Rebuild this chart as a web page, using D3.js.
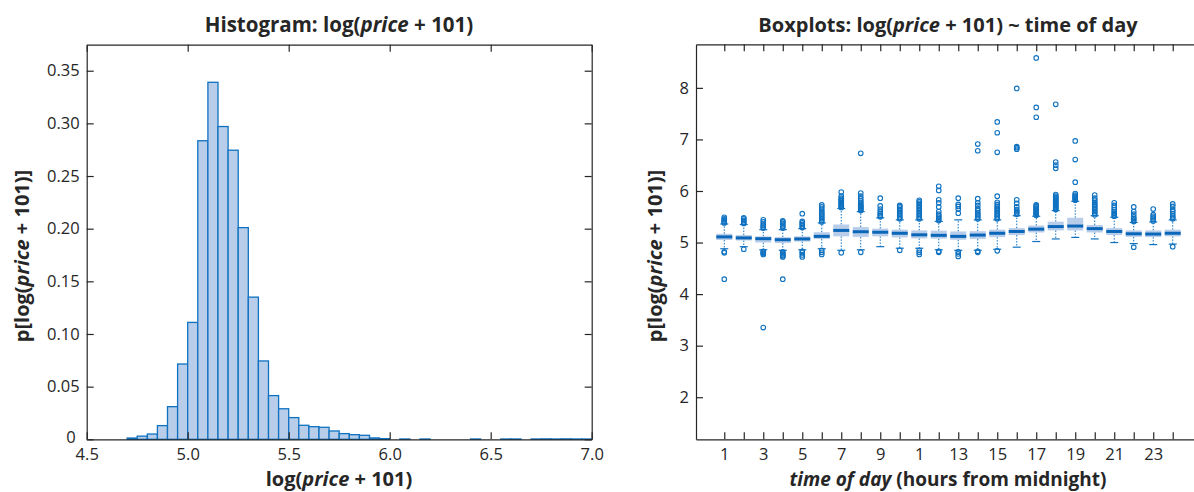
<!DOCTYPE html>
<html>
<head>
<meta charset="utf-8">
<script src="https://cdn.jsdelivr.net/npm/d3@7"></script>
<style>
  body { margin: 0; background: #fff; }
  text { font-family: "Open Sans", "Noto Sans", sans-serif; fill: #262626; }
</style>
</head>
<body>
<div id="chart"></div>
<script>
// Histogram: lower bin edges (bin width 0.05) and probabilities
const binLo = [4.70, 4.75, 4.80, 4.85, 4.90, 4.95, 5.00, 5.05, 5.10, 5.15, 5.20, 5.25, 5.30,
  5.35, 5.40, 5.45, 5.50, 5.55, 5.60, 5.65, 5.70, 5.75, 5.80, 5.85, 5.90, 5.95,
  6.05, 6.15, 6.40, 6.55, 6.60, 6.70, 6.75, 6.80, 6.85, 6.90, 6.95];
const binP = [0.0012, 0.003, 0.005, 0.013, 0.031, 0.0715, 0.111, 0.2835, 0.339, 0.297, 0.2745, 0.201, 0.135,
  0.0744, 0.0415, 0.029, 0.0206, 0.0133, 0.012, 0.0114, 0.0079, 0.0054, 0.0044, 0.0038, 0.0013, 0.0006,
  0.0003, 0.0003, 0.0003, 0.0003, 0.0003, 0.0003, 0.0004, 0.0003, 0.0004, 0.0003, 0.0003];
const binWidth = 0.05;
const histXTicks = [4.5, 5.0, 5.5, 6.0, 6.5, 7.0];
const histYTicks = [0, 0.05, 0.10, 0.15, 0.20, 0.25, 0.30, 0.35];

// Boxplots by hour of day
const hours = d3.range(1, 25);
const q1 = [5.05, 5.04, 5.00, 4.99, 5.02, 5.07, 5.12, 5.11, 5.12, 5.10, 5.08, 5.075,
  5.055, 5.07, 5.105, 5.145, 5.195, 5.235, 5.235, 5.195, 5.145, 5.11, 5.105, 5.12];
const median = [5.11, 5.09, 5.075, 5.055, 5.07, 5.12, 5.235, 5.21, 5.20, 5.18, 5.15, 5.14,
  5.12, 5.145, 5.18, 5.215, 5.26, 5.31, 5.32, 5.27, 5.215, 5.17, 5.165, 5.18];
const q3 = [5.17, 5.145, 5.12, 5.105, 5.12, 5.20, 5.35, 5.30, 5.27, 5.25, 5.235, 5.23,
  5.215, 5.22, 5.25, 5.28, 5.33, 5.405, 5.48, 5.34, 5.28, 5.235, 5.235, 5.25];
const whiskLo = [4.88, 4.92, 4.86, 4.85, 4.86, 4.88, 4.85, 4.86, 4.92, 4.89, 4.89, 4.86,
  4.85, 4.85, 4.87, 4.91, 5.02, 5.07, 5.10, 5.07, 5.00, 4.98, 4.96, 4.97];
const whiskHi = [5.36, 5.35, 5.25, 5.25, 5.27, 5.38, 5.66, 5.60, 5.48, 5.44, 5.44, 5.41,
  5.44, 5.44, 5.44, 5.52, 5.51, 5.62, 5.80, 5.52, 5.49, 5.39, 5.40, 5.44];
const outliers = [
  [5.38, 5.40, 5.42, 5.44, 5.46, 5.49, 4.82, 4.80, 4.29],
  [5.37, 5.40, 5.43, 5.46, 5.48, 4.87],
  [5.28, 5.30, 5.33, 5.36, 5.40, 5.44, 4.83, 4.81, 4.79, 4.77, 3.35],
  [5.28, 5.31, 5.34, 5.37, 5.40, 5.42, 4.82, 4.80, 4.78, 4.76, 4.74, 4.72, 4.29],
  [5.29, 5.32, 5.35, 5.38, 5.41, 5.56, 4.83, 4.80, 4.76, 4.72],
  [5.40, 5.43, 5.46, 5.49, 5.52, 5.55, 5.58, 5.61, 5.65, 5.69, 5.73, 4.85, 4.81, 4.77],
  [5.68, 5.70, 5.72, 5.74, 5.76, 5.78, 5.80, 5.82, 5.84, 5.86, 5.90, 5.98, 4.80],
  [5.62, 5.64, 5.66, 5.68, 5.70, 5.72, 5.75, 5.78, 5.81, 5.85, 5.90, 5.96, 6.73, 4.81],
  [5.50, 5.53, 5.56, 5.60, 5.65, 5.71, 5.86],
  [5.46, 5.49, 5.52, 5.55, 5.58, 5.61, 5.64, 5.67, 5.70, 5.72, 4.85],
  [5.46, 5.49, 5.52, 5.55, 5.58, 5.61, 5.64, 5.67, 5.70, 5.73, 5.76, 5.79, 5.82, 4.85, 4.81, 4.77],
  [5.43, 5.46, 5.49, 5.52, 5.55, 5.60, 5.69, 5.77, 5.83, 6.01, 6.09, 4.83, 4.81],
  [5.57, 5.65, 5.70, 5.74, 5.86, 4.82, 4.78, 4.73],
  [5.46, 5.49, 5.52, 5.55, 5.58, 5.62, 5.66, 5.72, 5.77, 5.85, 6.78, 6.91, 4.83, 4.81],
  [5.46, 5.49, 5.52, 5.55, 5.58, 5.61, 5.64, 5.67, 5.70, 5.74, 5.78, 5.90, 6.75, 7.13, 7.34, 4.84],
  [5.55, 5.58, 5.61, 5.64, 5.69, 5.76, 5.83, 6.81, 6.84, 6.86, 7.99],
  [5.53, 5.55, 5.57, 5.59, 5.61, 5.63, 5.65, 5.67, 5.69, 5.71, 5.73, 7.43, 7.62, 8.58],
  [5.64, 5.66, 5.68, 5.70, 5.72, 5.74, 5.76, 5.78, 5.80, 5.82, 5.84, 5.86, 5.88, 5.90, 5.93, 6.44, 6.50, 6.56, 7.68],
  [5.82, 5.84, 5.86, 5.88, 5.90, 5.92, 5.95, 6.17, 6.61, 6.97],
  [5.54, 5.57, 5.60, 5.63, 5.66, 5.69, 5.72, 5.75, 5.78, 5.82, 5.86, 5.92],
  [5.51, 5.54, 5.57, 5.60, 5.64, 5.68, 5.72, 5.77],
  [5.41, 5.44, 5.47, 5.50, 5.55, 5.60, 5.69, 4.91],
  [5.42, 5.45, 5.48, 5.51, 5.54, 5.65],
  [5.46, 5.49, 5.52, 5.56, 5.60, 5.64, 5.70, 5.75, 4.92]
];
const boxYTicks = [2, 3, 4, 5, 6, 7, 8];
const boxXTickLabels = ["1", "", "3", "", "5", "", "7", "", "9", "", "1", "",
  "13", "", "15", "", "17", "", "19", "", "21", "", "23", ""];

const W = 1194, H = 492;
const lightBlue = "#b8cde9", blue = "#0f72c1", darkBlue = "#0a66b8", ink = "#262626";
const tickLen = 7;

const svg = d3.select("#chart").append("svg")
  .attr("width", W).attr("height", H);

// ---------- Left: histogram ----------
const hx = d3.scaleLinear().domain([4.5, 7.0]).range([86.7, 591.7]);
const hy = d3.scaleLinear().domain([0, 0.3747]).range([439.3, 44.7]);

const hist = svg.append("g");

hist.selectAll("rect.bar")
  .data(binLo.map((lo, i) => ({ lo, p: binP[i] })))
  .enter().append("rect")
  .attr("class", "bar")
  .attr("x", d => hx(d.lo))
  .attr("y", d => hy(d.p))
  .attr("width", d => hx(d.lo + binWidth) - hx(d.lo))
  .attr("height", d => hy(0) - hy(d.p))
  .attr("fill", lightBlue)
  .attr("stroke", blue)
  .attr("stroke-width", 1.3);

function frame(g, xs, ys, xTicks, yTicks, xFmt, yFmt) {
  const [x0, x1] = xs.range();
  const [y0, y1] = ys.range();
  g.append("g").attr("class", "xbottom").attr("transform", `translate(0,${y0})`)
    .call(d3.axisBottom(xs).tickValues(xTicks).tickFormat(xFmt).tickSizeInner(-tickLen).tickSizeOuter(0).tickPadding(7));
  g.append("g").attr("transform", `translate(0,${y1})`)
    .call(d3.axisTop(xs).tickValues(xTicks).tickFormat("").tickSizeInner(-tickLen).tickSizeOuter(0));
  g.append("g").attr("class", "yleft").attr("transform", `translate(${x0},0)`)
    .call(d3.axisLeft(ys).tickValues(yTicks).tickFormat(yFmt).tickSizeInner(-tickLen).tickSizeOuter(0).tickPadding(7));
  g.append("g").attr("transform", `translate(${x1},0)`)
    .call(d3.axisRight(ys).tickValues(yTicks).tickFormat("").tickSizeInner(-tickLen).tickSizeOuter(0));
  g.selectAll(".domain, .tick line").attr("stroke", ink).attr("stroke-width", 1.2);
  g.selectAll(".tick text").attr("font-size", 16.5).style("fill", ink);
  g.selectAll(".xbottom .tick text").attr("dy", "0.82em");
}

frame(hist, hx, hy, histXTicks, histYTicks, d3.format(".1f"), d => d === 0 ? "0" : d3.format(".2f")(d));
// the "0" sits just left of the "4.5" label, as in the original
hist.selectAll(".yleft .tick text").filter(d => d === 0).attr("x", -11).attr("dy", "0.2em");

// ---------- Right: boxplots ----------
const bx = d3.scaleLinear().domain([-0.45, 25.45]).range([696, 1201]);
const by = d3.scaleLinear().domain([1.184, 8.845]).range([439.3, 44.3]);
const boxW = 16, capW = 8;

const box = svg.append("g");
const boxes = box.selectAll("g.box")
  .data(hours.map((h, i) => ({ h, i })))
  .enter().append("g").attr("class", "box");

boxes.append("line")
  .attr("x1", d => bx(d.h)).attr("x2", d => bx(d.h))
  .attr("y1", d => by(q3[d.i])).attr("y2", d => by(whiskHi[d.i]))
  .attr("stroke", blue).attr("stroke-width", 1).attr("stroke-dasharray", "1.5,1.5");
boxes.append("line")
  .attr("x1", d => bx(d.h)).attr("x2", d => bx(d.h))
  .attr("y1", d => by(q1[d.i])).attr("y2", d => by(whiskLo[d.i]))
  .attr("stroke", blue).attr("stroke-width", 1).attr("stroke-dasharray", "1.5,1.5");
boxes.append("line")
  .attr("x1", d => bx(d.h) - capW / 2).attr("x2", d => bx(d.h) + capW / 2)
  .attr("y1", d => by(whiskHi[d.i])).attr("y2", d => by(whiskHi[d.i]))
  .attr("stroke", blue).attr("stroke-width", 1.2);
boxes.append("line")
  .attr("x1", d => bx(d.h) - capW / 2).attr("x2", d => bx(d.h) + capW / 2)
  .attr("y1", d => by(whiskLo[d.i])).attr("y2", d => by(whiskLo[d.i]))
  .attr("stroke", blue).attr("stroke-width", 1.2);
boxes.append("rect")
  .attr("x", d => bx(d.h) - boxW / 2)
  .attr("y", d => by(q3[d.i]))
  .attr("width", boxW)
  .attr("height", d => by(q1[d.i]) - by(q3[d.i]))
  .attr("fill", lightBlue);
boxes.append("line")
  .attr("x1", d => bx(d.h) - boxW / 2).attr("x2", d => bx(d.h) + boxW / 2)
  .attr("y1", d => by(median[d.i])).attr("y2", d => by(median[d.i]))
  .attr("stroke", darkBlue).attr("stroke-width", 3);
boxes.selectAll("circle")
  .data(d => outliers[d.i].map(v => ({ h: d.h, v })))
  .enter().append("circle")
  .attr("cx", d => bx(d.h)).attr("cy", d => by(d.v))
  .attr("r", 2.3)
  .attr("fill", "none").attr("stroke", blue).attr("stroke-width", 1.1);

frame(box, bx, by, hours, boxYTicks, (d, i) => boxXTickLabels[i], d3.format("d"));

// ---------- Titles and axis labels ----------
function richText(x, y, parts, size, rotate) {
  const t = svg.append("text")
    .attr("text-anchor", "middle")
    .attr("font-size", size)
    .attr("font-weight", "bold");
  if (rotate) t.attr("transform", `translate(${x},${y}) rotate(-90)`);
  else t.attr("x", x).attr("y", y);
  parts.forEach(p => t.append("tspan").attr("font-style", p[1] ? "italic" : "normal").text(p[0]));
  return t;
}

const logLabel = [["log(", false], ["price", true], [" + 101)", false]];
richText(339, 32, [["Histogram: ", false]].concat(logLabel), 20.5);
richText(948, 32, [["Boxplots: ", false]].concat(logLabel).concat([[" ~ time of day", false]]), 20);
richText(339, 486, logLabel, 20);
richText(948, 486, [["time of day", true], [" (hours from midnight)", false]], 19);
richText(29, 256, [["p[", false]].concat(logLabel).concat([["]", false]]), 20, true);
richText(662, 256, [["p[", false]].concat(logLabel).concat([["]", false]]), 20, true);
</script>
</body>
</html>
